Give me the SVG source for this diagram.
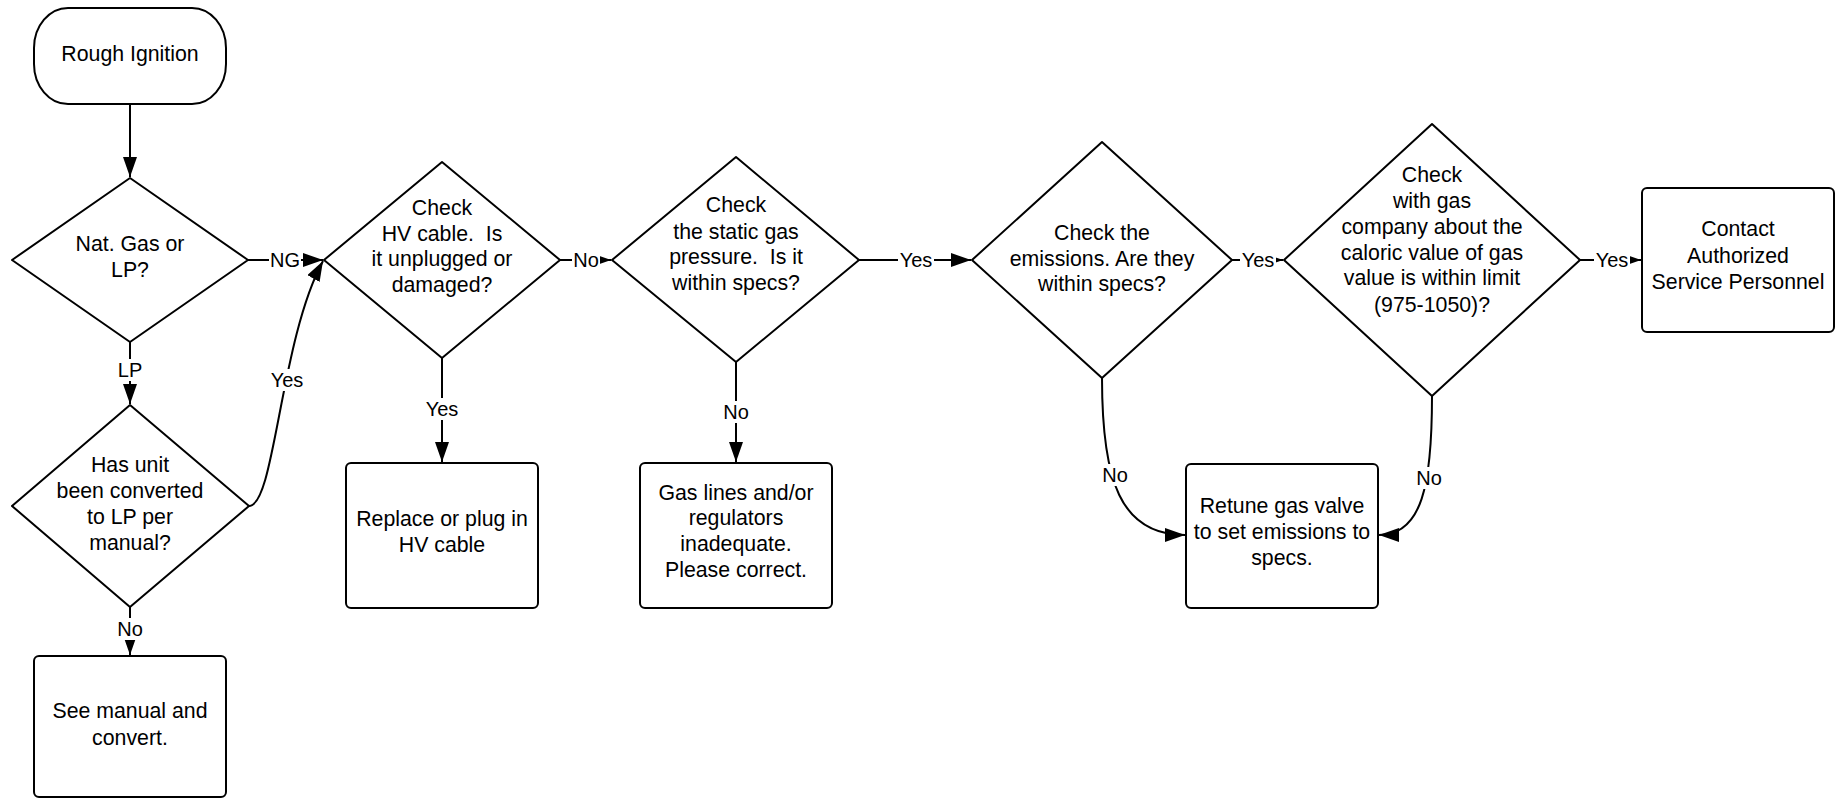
<svg xmlns="http://www.w3.org/2000/svg" width="1845" height="799" viewBox="0 0 1845 799">
<style>
.n{fill:#fff;stroke:#000;stroke-width:2;stroke-linejoin:round}
.t{font-family:"Liberation Sans",Arial,sans-serif;font-size:21.3px;text-anchor:middle;dominant-baseline:central;fill:#000;white-space:pre}
.l{font-family:"Liberation Sans",Arial,sans-serif;font-size:20px;text-anchor:middle;dominant-baseline:central;fill:#000}
.c{fill:none;stroke:#000;stroke-width:2;marker-end:url(#ah)}
.bg{fill:#fff;stroke:none}
</style>
<defs>
<marker id="ah" markerUnits="userSpaceOnUse" markerWidth="20" markerHeight="14" refX="20" refY="7" orient="auto" viewBox="0 0 20 14">
<path d="M0,0 L20,7 L0,14 z" fill="#000"/>
</marker>
</defs>
<rect width="1845" height="799" fill="#fff"/>
<g id="connectors">
<path class="c" d="M130,104 L130,177"/>
<path class="c" d="M248,260 L323,260"/>
<path class="c" d="M249,506 C275,506 280,340 323,261"/>
<path class="c" d="M130,342 L130,404"/>
<path class="c" d="M130,607 L130,655"/>
<path class="c" d="M560,260 L611,260"/>
<path class="c" d="M442,358 L442,462"/>
<path class="c" d="M859,260 L971,260"/>
<path class="c" d="M736,362 L736,462"/>
<path class="c" d="M1232,260 L1283,260"/>
<path class="c" d="M1102,378 C1102,480 1120,535 1185,535"/>
<path class="c" d="M1580,260 L1641,260"/>
<path class="c" d="M1432,396 C1432,485 1422,535 1379,535"/>
<g id="labels">
<rect class="bg" x="269" y="249" width="32" height="22"/><text class="l" x="285" y="260">NG</text>
<rect class="bg" x="269" y="369" width="36" height="22"/><text class="l" x="287" y="380">Yes</text>
<rect class="bg" x="117" y="359" width="26" height="22"/><text class="l" x="130" y="370">LP</text>
<rect class="bg" x="116" y="618" width="28" height="22"/><text class="l" x="130" y="629">No</text>
<rect class="bg" x="572" y="249" width="28" height="22"/><text class="l" x="586" y="260">No</text>
<rect class="bg" x="424" y="398" width="36" height="22"/><text class="l" x="442" y="409">Yes</text>
<rect class="bg" x="898" y="249" width="36" height="22"/><text class="l" x="916" y="260">Yes</text>
<rect class="bg" x="722" y="401" width="28" height="22"/><text class="l" x="736" y="412">No</text>
<rect class="bg" x="1240" y="249" width="36" height="22"/><text class="l" x="1258" y="260">Yes</text>
<rect class="bg" x="1101" y="464" width="28" height="22"/><text class="l" x="1115" y="475">No</text>
<rect class="bg" x="1594" y="249" width="36" height="22"/><text class="l" x="1612" y="260">Yes</text>
<rect class="bg" x="1415" y="467" width="28" height="22"/><text class="l" x="1429" y="478">No</text>
</g>
</g>
<g id="start">
<rect class="n" x="34" y="8" width="192" height="96" rx="34" ry="40"/>
<text class="t" x="130" y="54">Rough Ignition</text>
</g>
<g id="d-gas">
<polygon class="n" points="130,178 248,260 130,342 12,260"/>
<text class="t" x="130" y="244">Nat. Gas or</text>
<text class="t" x="130" y="270">LP?</text>
</g>
<g id="d-converted">
<polygon class="n" points="130,405 249,506 130,607 12,506"/>
<text class="t" x="130" y="465">Has unit</text>
<text class="t" x="130" y="491">been converted</text>
<text class="t" x="130" y="517">to LP per</text>
<text class="t" x="130" y="543">manual?</text>
</g>
<g id="see-manual">
<rect class="n" x="34" y="656" width="192" height="141" rx="5"/>
<text class="t" x="130" y="711">See manual and</text>
<text class="t" x="130" y="738">convert.</text>
</g>
<g id="d-hv">
<polygon class="n" points="442,162 560,260 442,358 324,260"/>
<text class="t" x="442" y="208">Check</text>
<text class="t" x="442" y="234">HV cable.  Is</text>
<text class="t" x="442" y="259">it unplugged or</text>
<text class="t" x="442" y="285">damaged?</text>
</g>
<g id="replace">
<rect class="n" x="346" y="463" width="192" height="145" rx="5"/>
<text class="t" x="442" y="519">Replace or plug in</text>
<text class="t" x="442" y="545">HV cable</text>
</g>
<g id="d-pressure">
<polygon class="n" points="736,157 859,260 736,362 612,260"/>
<text class="t" x="736" y="205">Check</text>
<text class="t" x="736" y="232">the static gas</text>
<text class="t" x="736" y="257">pressure.  Is it</text>
<text class="t" x="736" y="283">within specs?</text>
</g>
<g id="gas-lines">
<rect class="n" x="640" y="463" width="192" height="145" rx="5"/>
<text class="t" x="736" y="493">Gas lines and/or</text>
<text class="t" x="736" y="518">regulators</text>
<text class="t" x="736" y="544">inadequate.</text>
<text class="t" x="736" y="570">Please correct.</text>
</g>
<g id="d-emissions">
<polygon class="n" points="1102,142 1232,260 1102,378 972,260"/>
<text class="t" x="1102" y="233">Check the</text>
<text class="t" x="1102" y="259">emissions. Are they</text>
<text class="t" x="1102" y="284">within specs?</text>
</g>
<g id="retune">
<rect class="n" x="1186" y="464" width="192" height="144" rx="5"/>
<text class="t" x="1282" y="506">Retune gas valve</text>
<text class="t" x="1282" y="532">to set emissions to</text>
<text class="t" x="1282" y="558">specs.</text>
</g>
<g id="d-caloric">
<polygon class="n" points="1432,124 1580,260 1432,396 1284,260"/>
<text class="t" x="1432" y="175">Check</text>
<text class="t" x="1432" y="201">with gas</text>
<text class="t" x="1432" y="227">company about the</text>
<text class="t" x="1432" y="253">caloric value of gas</text>
<text class="t" x="1432" y="278">value is within limit</text>
<text class="t" x="1432" y="305">(975-1050)?</text>
</g>
<g id="contact">
<rect class="n" x="1642" y="188" width="192" height="144" rx="5"/>
<text class="t" x="1738" y="229">Contact</text>
<text class="t" x="1738" y="256">Authorized</text>
<text class="t" x="1738" y="282">Service Personnel</text>
</g>
</svg>
